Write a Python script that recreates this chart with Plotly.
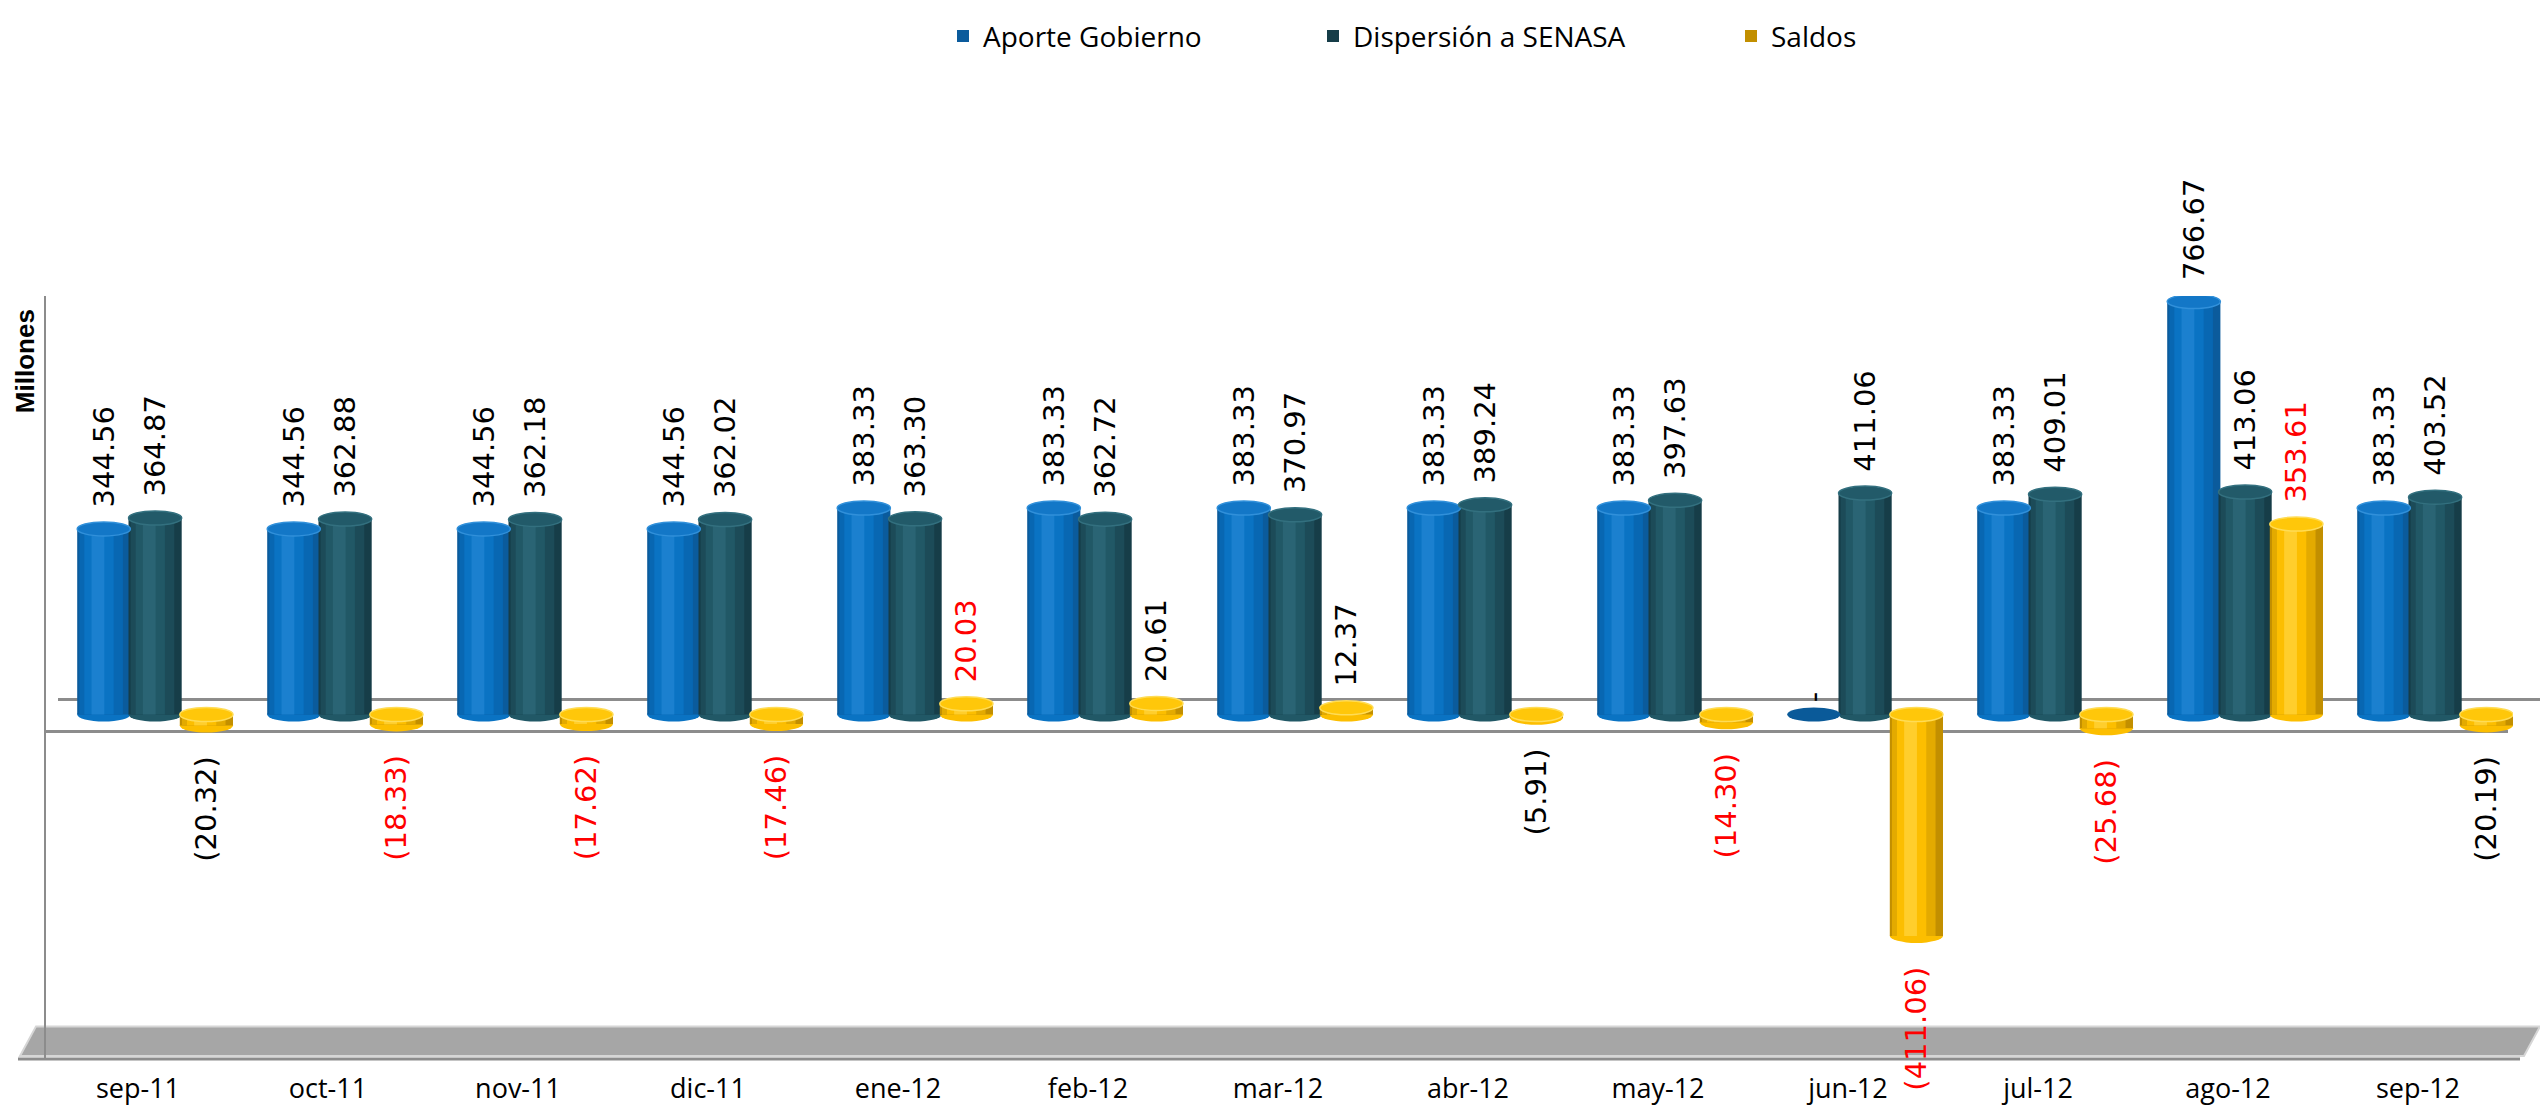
import plotly.graph_objects as go

# ---- data (millones) ----
months = ["sep-11", "oct-11", "nov-11", "dic-11", "ene-12", "feb-12", "mar-12",
          "abr-12", "may-12", "jun-12", "jul-12", "ago-12", "sep-12"]
aporte_gobierno = [344.56, 344.56, 344.56, 344.56, 383.33, 383.33, 383.33,
                   383.33, 383.33, 0.00, 383.33, 766.67, 383.33]
dispersion_senasa = [364.87, 362.88, 362.18, 362.02, 363.30, 362.72, 370.97,
                     389.24, 397.63, 411.06, 409.01, 413.06, 403.52]
saldos = [-20.32, -18.33, -17.62, -17.46, 20.03, 20.61, 12.37,
          -5.91, -14.30, -411.06, -25.68, 353.61, -20.19]

# months whose "Saldos" label is highlighted in red
saldos_red_label = [False, True, True, True, True, False, False,
                    False, True, True, True, True, False]

# ---- page geometry ----
W, H = 2540, 1118
M_L, M_R, M_T, M_B = 43, 27, 292, 56
Y_MIN, Y_MAX = -634, 777
PW = W - M_L - M_R
PH = H - M_T - M_B


def px_x(p):
    return (p - M_L) / PW


def px_y(p):
    return (H - M_B - p) / PH


NBSP = "\u00a0"
BAR_W = 0.28
LABEL_FONT = "DejaVu Sans"


def fmt(v):
    if v > 0:
        return NBSP * 2 + f"{v:,.2f}"
    if v < 0:
        return f"({abs(v):,.2f})" + NBSP * 3
    return NBSP + "-"


series = [
    dict(name="Aporte Gobierno", values=aporte_gobierno, center=-0.18, legend="legend",
         shades=["#0B5B9C", "#0867B2", "#0A73C3", "#1B80CF"],
         cap="#1377C7", capline="#3190DA", zero_cap="#0A5A99",
         label_colors=["#000000"] * len(months)),
    dict(name="Dispersión a SENASA", values=dispersion_senasa, center=0.09, legend="legend2",
         shades=["#163D48", "#1C4B58", "#215866", "#2A6474"],
         cap="#225A69", capline="#33707F", zero_cap="#163D48",
         label_colors=["#000000"] * len(months)),
    dict(name="Saldos", values=saldos, center=0.36, legend="legend3",
         shades=["#C28F00", "#E3AA00", "#FCBE00", "#FFCE2C"],
         cap="#FFC70A", capline="#FFDC55", zero_cap="#C28F00",
         label_colors=["#FF0000" if r else "#000000" for r in saldos_red_label]),
]

# nested strips that give each bar a rounded, cylinder-like shading
strips = [(1.00, 0.00), (0.82, -0.05), (0.55, -0.09), (0.24, -0.11)]

fig = go.Figure()
shapes = []

# floor, back wall edge, front edge and left axis
floor = [(20, 1062), (36, 1032), (2540, 1032), (2524, 1062)]
path = "M " + " L ".join(f"{px_x(x):.5f},{px_y(y):.5f}" for x, y in floor) + " Z"
shapes.append(dict(type="path", xref="paper", yref="paper", path=path,
                   fillcolor="#A6A6A6", line=dict(color="#D6D6D6", width=2), layer="below"))
shapes.append(dict(type="line", xref="paper", yref="paper",
                   x0=px_x(18), x1=px_x(2520), y0=px_y(1065), y1=px_y(1065),
                   line=dict(color="#8C8C8C", width=3), layer="below"))
shapes.append(dict(type="line", xref="paper", yref="paper",
                   x0=px_x(45), x1=px_x(45), y0=px_y(292), y1=px_y(1065),
                   line=dict(color="#8C8C8C", width=2), layer="below"))
shapes.append(dict(type="line", xref="paper", yref="y", ysizemode="pixel", yanchor=0,
                   x0=px_x(58), x1=px_x(2540), y0=15, y1=15,
                   line=dict(color="#8C8C8C", width=3), layer="below"))
shapes.append(dict(type="line", xref="paper", yref="y", ysizemode="pixel", yanchor=0,
                   x0=px_x(45), x1=px_x(2508), y0=-17, y1=-17,
                   line=dict(color="#8C8C8C", width=3), layer="below"))

xs = list(range(len(months)))

for s in series:
    vals = s["values"]
    for k, (frac, shift) in enumerate(strips):
        w = BAR_W * frac
        off = s["center"] + shift * BAR_W - w / 2
        base = k == 0
        fig.add_trace(go.Bar(
            x=xs, y=vals, width=w, offset=off,
            name=s["name"], legend=s["legend"], showlegend=base,
            marker=dict(color=s["shades"][k] if not base else s["shades"][0], line=dict(width=0)),
            text=[fmt(v) for v in vals] if base else None,
            textposition="outside" if base else "none",
            textangle=-90, cliponaxis=False, constraintext="none",
            textfont=dict(family=LABEL_FONT, size=29, color=s["label_colors"]),
            hoverinfo="skip" if not base else "x+y+name",
        ))
    # elliptical top and bottom faces of each cylinder
    for i, v in enumerate(vals):
        x0 = i + s["center"] - BAR_W / 2
        x1 = i + s["center"] + BAR_W / 2
        top = v if v > 0 else 0
        bottom = 0 if v > 0 else v
        if v != 0:
            shapes.append(dict(type="circle", xref="x", yref="y", ysizemode="pixel",
                               yanchor=bottom, x0=x0, x1=x1, y0=-7, y1=7,
                               fillcolor=s["shades"][2], line=dict(width=0), layer="below"))
            shapes.append(dict(type="circle", xref="x", yref="y", ysizemode="pixel",
                               yanchor=top, x0=x0, x1=x1, y0=-7, y1=7,
                               fillcolor=s["cap"], line=dict(color=s["capline"], width=1.5),
                               layer="above"))
        else:
            shapes.append(dict(type="circle", xref="x", yref="y", ysizemode="pixel",
                               yanchor=0, x0=x0, x1=x1, y0=-7, y1=7,
                               fillcolor=s["zero_cap"], line=dict(width=0), layer="above"))

legend_style = dict(orientation="h", yanchor="middle", y=px_y(29), xanchor="left",
                    font=dict(family="Open Sans", size=28, color="#000000"),
                    bgcolor="rgba(0,0,0,0)")

fig.update_layout(
    width=W, height=H,
    margin=dict(l=M_L, r=M_R, t=M_T, b=M_B),
    paper_bgcolor="white", plot_bgcolor="white",
    barmode="overlay",
    shapes=shapes,
    legend=dict(legend_style, x=px_x(943)),
    legend2=dict(legend_style, x=px_x(1313)),
    legend3=dict(legend_style, x=px_x(1731)),
    xaxis=dict(range=[-0.5, len(months) - 0.5], tickvals=xs, ticktext=months,
               showgrid=False, zeroline=False, showline=False, ticks="",
               ticklabelstandoff=14,
               tickfont=dict(family="Open Sans", size=27, color="#000000")),
    yaxis=dict(range=[Y_MIN, Y_MAX], visible=False, showgrid=False, zeroline=False),
    annotations=[dict(text="<b>Millones</b>", xref="paper", yref="paper",
                      x=px_x(25), y=px_y(358), xanchor="center", yanchor="middle",
                      textangle=-90, showarrow=False,
                      font=dict(family="Liberation Sans", size=26, color="#000000"))],
)

fig.write_html("out.html")
